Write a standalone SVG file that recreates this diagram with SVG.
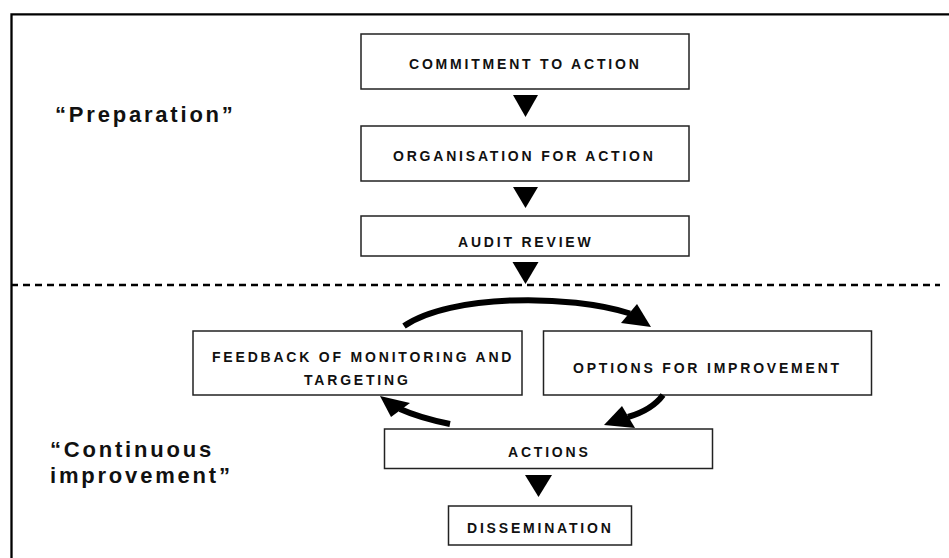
<svg xmlns="http://www.w3.org/2000/svg" width="949" height="558" viewBox="0 0 949 558">
<style>
.box{fill:#fff;stroke:#222;stroke-width:1.5}
.t{font-family:"Liberation Sans",Arial,sans-serif;font-weight:bold;font-size:14px;letter-spacing:2.8px;fill:#111}
.big{font-family:"Liberation Sans",Arial,sans-serif;font-weight:bold;font-size:22px;letter-spacing:2.8px;fill:#111}
.tri{fill:#000}
.arc{fill:none;stroke:#000;stroke-width:6}
</style>
<rect width="949" height="558" fill="#fff"/>
<path d="M11.5 558 V14.3 H949" fill="none" stroke="#000" stroke-width="2.3"/>
<line x1="11" y1="285" x2="940" y2="285" stroke="#000" stroke-width="2.5" stroke-dasharray="7 5"/>
<text class="big" x="55" y="122">“Preparation”</text>
<text class="big" x="50" y="457">“Continuous</text>
<text class="big" x="50" y="483">improvement”</text>
<g id="commitment"><rect class="box" x="361" y="34" width="328" height="55"/><text class="t" x="409" y="69">COMMITMENT TO ACTION</text></g>
<g id="organisation"><rect class="box" x="361" y="126" width="328" height="55"/><text class="t" x="393" y="161">ORGANISATION FOR ACTION</text></g>
<g id="audit"><rect class="box" x="361" y="216" width="328" height="40"/><text class="t" x="458" y="247">AUDIT REVIEW</text></g>
<g id="feedback"><rect class="box" x="193" y="331" width="329" height="64"/><text class="t" x="212" y="362">FEEDBACK OF MONITORING AND</text><text class="t" x="304" y="385">TARGETING</text></g>
<g id="options"><rect class="box" x="543.5" y="331" width="328" height="64"/><text class="t" x="573" y="373">OPTIONS FOR IMPROVEMENT</text></g>
<g id="actions"><rect class="box" x="384.5" y="429" width="328" height="39.5"/><text class="t" x="508" y="457">ACTIONS</text></g>
<g id="dissemination"><rect class="box" x="448.5" y="506" width="183" height="39"/><text class="t" x="467" y="533">DISSEMINATION</text></g>
<g id="connectors">
<polygon class="tri" points="513,95 538,95 525.5,117"/>
<polygon class="tri" points="513,187 538,187 525.5,208"/>
<polygon class="tri" points="512.5,262 538.5,262 525.5,284"/>
<polygon class="tri" points="525,475 552,475 538.5,497"/>
<path class="arc" d="M404 326 C450 294 570 294 630 313.5"/>
<polygon class="tri" points="621,323 637,304 651,327"/>
<path class="arc" d="M663 395 Q652 410 628 417"/>
<polygon class="tri" points="604,425 622,406 635,428"/>
<path class="arc" d="M450 424 Q420 418 400 409"/>
<polygon class="tri" points="380,396 391,417 410,403"/>
</g>
</svg>
